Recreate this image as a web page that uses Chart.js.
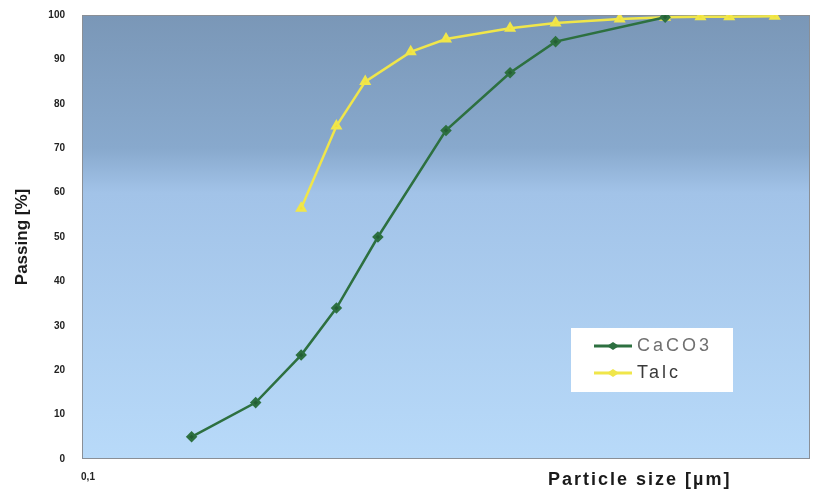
<!DOCTYPE html>
<html>
<head>
<meta charset="utf-8">
<script src="https://cdn.jsdelivr.net/npm/chart.js@4/dist/chart.umd.min.js"></script>
<style>
  body { margin: 0; background: #fff; }
  #wrap { width: 817px; height: 493px; position: relative; }
</style>
</head>
<body>
<div id="wrap"><canvas id="psdChart" width="817" height="493"></canvas></div>
<script>
// particle size distribution
const caco3Size = [0.2, 0.3, 0.4, 0.5, 0.65, 1, 1.5, 2, 4];
const caco3Pass = [5, 12.7, 23.4, 34, 50, 74, 87, 94, 99.5];
const talcSize = [0.4, 0.5, 0.6, 0.8, 1, 1.5, 2, 3, 4, 5, 6, 8];
const talcPass = [56.5, 75, 85, 91.7, 94.6, 97, 98.2, 99.1, 99.5, 99.6, 99.6, 99.7];
const yTicks = [0, 10, 20, 30, 40, 50, 60, 70, 80, 90, 100];

const toPoints = (xs, ys) => xs.map((x, i) => ({ x: x, y: ys[i] }));

// blue gradient behind the plot + thin frame
const plotBg = {
    id: 'plotBg',
    beforeDatasetsDraw(chart) {
        const { ctx, chartArea: a } = chart;
        const g = ctx.createLinearGradient(0, a.top, 0, a.bottom);
        g.addColorStop(0, '#7a97b7');
        g.addColorStop(0.3, '#88a9cd');
        g.addColorStop(0.4, '#a2c3e8');
        g.addColorStop(1, '#b8daf9');
        ctx.save();
        ctx.fillStyle = g;
        ctx.fillRect(a.left, a.top, a.right - a.left, a.bottom - a.top);
        ctx.strokeStyle = '#8a8f96';
        ctx.lineWidth = 1;
        ctx.strokeRect(a.left + 0.5, a.top + 0.5, a.right - a.left - 1, a.bottom - a.top - 1);
        ctx.restore();
    }
};

// legend box inside the plot and x title placed towards the right
const extras = {
    id: 'extras',
    afterDraw(chart) {
        const { ctx } = chart;
        ctx.save();
        ctx.fillStyle = '#ffffff';
        ctx.fillRect(571, 328, 162, 64);
        const rows = [
            { ds: chart.data.datasets[0], y: 346, col: '#707070' },
            { ds: chart.data.datasets[1], y: 373, col: '#3a3a3a' }
        ];
        rows.forEach(r => {
            ctx.strokeStyle = r.ds.borderColor;
            ctx.lineWidth = 3;
            ctx.beginPath();
            ctx.moveTo(594, r.y);
            ctx.lineTo(632, r.y);
            ctx.stroke();
            ctx.fillStyle = r.ds.borderColor;
            ctx.beginPath();
            ctx.moveTo(613, r.y - 4);
            ctx.lineTo(619, r.y);
            ctx.lineTo(613, r.y + 4);
            ctx.lineTo(607, r.y);
            ctx.closePath();
            ctx.fill();
            ctx.fillStyle = r.col;
            ctx.font = '18px "Liberation Sans", Arial, sans-serif';
            ctx.textBaseline = 'middle';
            ctx.letterSpacing = '3px';
            ctx.fillText(r.ds.label, 637, r.y);
        });
        ctx.fillStyle = '#1a1a1a';
        ctx.font = 'bold 18px "Liberation Sans", Arial, sans-serif';
        ctx.letterSpacing = '2px';
        ctx.textAlign = 'left';
        ctx.textBaseline = 'middle';
        ctx.fillText('Particle size [µm]', 548, 480);
        ctx.restore();
    }
};

const ctx = document.getElementById('psdChart').getContext('2d');
const psdChart = new Chart(ctx, {
    type: 'line',
    data: {
        datasets: [{
            label: 'CaCO3',
            data: toPoints(caco3Size, caco3Pass),
            borderColor: '#2d7040',
            backgroundColor: '#245e34',
            borderWidth: 2.5,
            pointStyle: 'rectRot',
            pointRadius: 4,
            fill: false,
            tension: 0
        }, {
            label: 'Talc',
            data: toPoints(talcSize, talcPass),
            borderColor: '#f0e64a',
            backgroundColor: '#f3e13a',
            borderWidth: 2.5,
            pointStyle: 'triangle',
            pointRadius: 4.5,
            fill: false,
            tension: 0
        }]
    },
    options: {
        responsive: false,
        animation: false,
        devicePixelRatio: 1,
        layout: { padding: { top: 15, right: 7, left: 0, bottom: 0 } },
        plugins: {
            legend: { display: false },
            tooltip: { enabled: false }
        },
        scales: {
            x: {
                type: 'logarithmic',
                min: 0.1,
                max: 10,
                grid: { display: false, drawTicks: false },
                border: { display: false },
                afterBuildTicks: s => { s.ticks = [{ value: 0.1 }]; },
                ticks: {
                    autoSkip: false,
                    maxRotation: 0,
                    padding: 12,
                    labelOffset: 6,
                    color: '#222',
                    font: { family: '"Liberation Sans", Arial', size: 10, weight: 'bold' },
                    callback: v => '0,1'
                },
                afterFit: s => { s.height = 34; }
            },
            y: {
                min: 0,
                max: 100,
                grid: { display: false, drawTicks: false },
                border: { display: false },
                afterBuildTicks: s => { s.ticks = yTicks.map(v => ({ value: v })); },
                ticks: {
                    padding: 17,
                    color: '#222',
                    font: { family: '"Liberation Sans", Arial', size: 10, weight: 'bold' }
                },
                title: {
                    display: true,
                    text: 'Passing [%]',
                    color: '#1a1a1a',
                    font: { family: '"Liberation Sans", Arial', size: 17, weight: 'bold' },
                    padding: { top: 12, bottom: 0 }
                },
                afterFit: s => {
                    s.width = 82;
                    s.paddingTop = 0;
                    s.paddingBottom = 0;
                }
            }
        }
    },
    plugins: [plotBg, extras]
});
</script>
</body>
</html>
